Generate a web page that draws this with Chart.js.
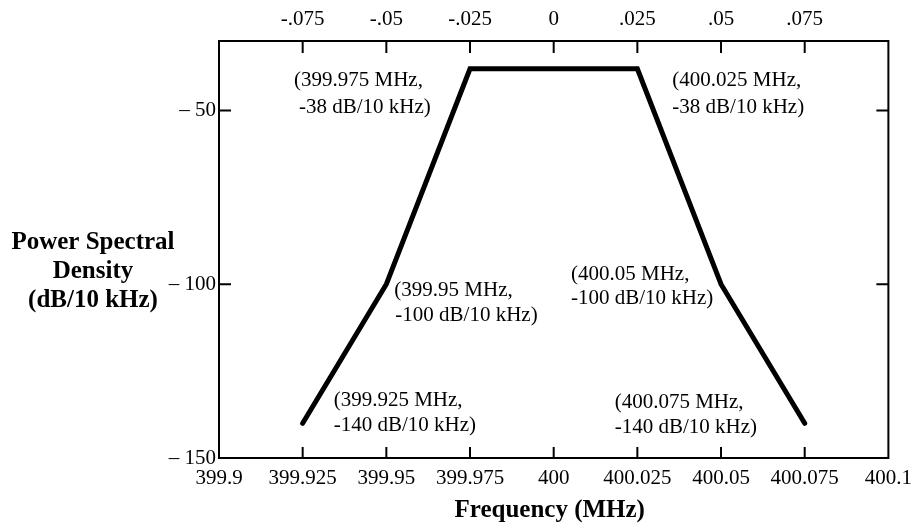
<!DOCTYPE html>
<html>
<head>
<meta charset="utf-8">
<script src="https://cdn.jsdelivr.net/npm/chart.js@4"></script>
<style>
  html, body { margin: 0; padding: 0; background: #fff; }
  #wrap { width: 920px; height: 528px; }
  .fontprobe { position: absolute; left: -999px; top: 0; font-family: "Liberation Serif"; }
</style>
</head>
<body>
<span class="fontprobe">Frequency 0.1</span><span class="fontprobe" style="font-weight:bold">Density</span>
<div id="wrap"><canvas id="psdChart"></canvas></div>
<script>
// mask corner points
const freqMHz = [399.925, 399.95, 399.975, 400.025, 400.05, 400.075];
const psdDb = [-140, -100, -38, -38, -100, -140];

// axis ticks
const xTickValues = [399.9, 399.925, 399.95, 399.975, 400, 400.025, 400.05, 400.075, 400.1];
const xTickLabels = ['399.9', '399.925', '399.95', '399.975', '400', '400.025', '400.05', '400.075', '400.1'];
const offsetTickValues = [-0.075, -0.05, -0.025, 0, 0.025, 0.05, 0.075];
const offsetTickLabels = ['-.075', '-.05', '-.025', '0', '.025', '.05', '.075'];
const yTickValues = [-150, -100, -50];
const yTickLabels = ['\u2013 150', '\u2013 100', '\u2013 50'];

// text next to each corner point
const pointNotes = [
    ['(399.925 MHz,', '-140 dB/10 kHz)'],
    ['(399.95 MHz,', '-100 dB/10 kHz)'],
    ['(399.975 MHz,', '-38 dB/10 kHz)'],
    ['(400.025 MHz,', '-38 dB/10 kHz)'],
    ['(400.05 MHz,', '-100 dB/10 kHz)'],
    ['(400.075 MHz,', '-140 dB/10 kHz)']
];
// pixel offsets of the two note lines from their point: dx1, dy1, dx2, dy2
const noteOffsets = [
    [31, -23, 31, 2],
    [8, 6, 9, 31],
    [-176, 12, -171, 39],
    [35, 12, 35, 39],
    [-150, -10, -150, 14],
    [-190, -21, -190, 4]
];

const serif = "'Liberation Serif', 'Times New Roman', Times, serif";

function line(ctx, x1, y1, x2, y2) {
    ctx.beginPath();
    ctx.moveTo(x1, y1);
    ctx.lineTo(x2, y2);
    ctx.stroke();
}

const framePlugin = {
    id: 'frame',
    afterDraw(chart) {
        const ctx = chart.ctx;
        const a = chart.chartArea;
        const sx = chart.scales.x, sx2 = chart.scales.x2, sy = chart.scales.y;
        ctx.save();
        ctx.strokeStyle = '#000';
        ctx.lineWidth = 2;
        ctx.strokeRect(a.left, a.top, a.right - a.left, a.bottom - a.top);

        // inward tick marks
        xTickValues.slice(1, -1).forEach(v => {
            const px = sx.getPixelForValue(v);
            line(ctx, px, a.bottom, px, a.bottom - 11);
        });
        offsetTickValues.forEach(v => {
            const px = sx2.getPixelForValue(v);
            line(ctx, px, a.top, px, a.top + 12);
        });
        yTickValues.forEach(v => {
            const py = sy.getPixelForValue(v);
            line(ctx, a.left, py, a.left + 12, py);
            if (v > -150) line(ctx, a.right, py, a.right - 12, py);
        });

        // notes
        ctx.fillStyle = '#000';
        ctx.font = '21px ' + serif;
        ctx.textAlign = 'left';
        ctx.textBaseline = 'middle';
        pointNotes.forEach((lines, i) => {
            const px = sx.getPixelForValue(freqMHz[i]);
            const py = sy.getPixelForValue(psdDb[i]);
            const o = noteOffsets[i];
            ctx.fillText(lines[0], px + o[0], py + o[1]);
            ctx.fillText(lines[1], px + o[2], py + o[3]);
        });

        // axis titles
        ctx.font = 'bold 25px ' + serif;
        ctx.textAlign = 'center';
        ctx.fillText('Frequency (MHz)', (a.left + a.right) / 2 - 4, 511);
        ctx.fillText('Power Spectral', 93, 243);
        ctx.fillText('Density', 93, 272);
        ctx.fillText('(dB/10 kHz)', 93, 301);
        ctx.restore();
    }
};

const tickFont = { family: serif, size: 21 };

const config = {
    type: 'scatter',
    data: {
        datasets: [{
            data: freqMHz.map((f, i) => ({ x: f, y: psdDb[i] })),
            showLine: true,
            borderColor: '#000',
            borderWidth: 5,
            borderCapStyle: 'round',
            pointRadius: 0,
            xAxisID: 'x',
            yAxisID: 'y'
        }]
    },
    options: {
        responsive: true,
        maintainAspectRatio: false,
        animation: false,
        layout: { padding: 0 },
        plugins: {
            legend: { display: false },
            tooltip: { enabled: false }
        },
        scales: {
            x: {
                type: 'linear',
                position: 'bottom',
                min: 399.9,
                max: 400.1,
                grid: { display: false, drawTicks: false },
                border: { display: false },
                afterBuildTicks: s => { s.ticks = xTickValues.map(v => ({ value: v })); },
                afterFit: s => { s.height = 70; },
                ticks: {
                    color: '#000',
                    font: tickFont,
                    padding: 8,
                    maxRotation: 0,
                    autoSkip: false,
                    callback: (v, i) => xTickLabels[i]
                }
            },
            x2: {
                type: 'linear',
                position: 'top',
                min: -0.1,
                max: 0.1,
                grid: { display: false, drawTicks: false },
                border: { display: false },
                afterBuildTicks: s => { s.ticks = offsetTickValues.map(v => ({ value: v })); },
                afterFit: s => { s.height = 41; },
                ticks: {
                    color: '#000',
                    font: tickFont,
                    padding: 9,
                    maxRotation: 0,
                    autoSkip: false,
                    callback: (v, i) => offsetTickLabels[i]
                }
            },
            y: {
                type: 'linear',
                position: 'left',
                min: -150,
                max: -30,
                grid: { display: false, drawTicks: false },
                border: { display: false },
                afterBuildTicks: s => { s.ticks = yTickValues.map(v => ({ value: v })); },
                afterFit: s => { s.width = 219; },
                ticks: {
                    color: '#000',
                    font: tickFont,
                    padding: 3,
                    autoSkip: false,
                    callback: (v, i) => yTickLabels[i]
                }
            },
            y2: {
                type: 'linear',
                position: 'right',
                min: -150,
                max: -30,
                grid: { display: false, drawTicks: false },
                border: { display: false },
                afterFit: s => { s.width = 28; },
                ticks: { display: false }
            }
        }
    },
    plugins: [framePlugin]
};

Promise.all([
    document.fonts.load("21px 'Liberation Serif'"),
    document.fonts.load("bold 25px 'Liberation Serif'")
]).catch(() => {}).then(() => {
    new Chart(document.getElementById('psdChart').getContext('2d'), config);
});
</script>
</body>
</html>
